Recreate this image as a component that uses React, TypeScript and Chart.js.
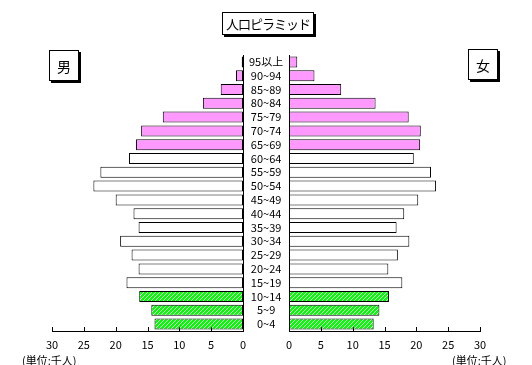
import React, { useEffect, useRef } from "react";
import { Chart, registerables } from "chart.js";

Chart.register(...registerables);

const ageGroups = [
  "95以上", "90~94", "85~89", "80~84", "75~79", "70~74", "65~69",
  "60~64", "55~59", "50~54", "45~49", "40~44", "35~39", "30~34",
  "25~29", "20~24", "15~19", "10~14", "5~9", "0~4",
];
const maleValues = [0.2, 1.1, 3.5, 6.3, 12.6, 16.0, 16.8, 17.9, 22.4, 23.5, 20.0, 17.2, 16.4, 19.3, 17.5, 16.4, 18.3, 16.3, 14.4, 13.9];
const femaleValues = [1.3, 4.0, 8.2, 13.6, 18.8, 20.7, 20.6, 19.6, 22.3, 23.1, 20.3, 18.1, 16.9, 18.9, 17.1, 15.6, 17.8, 15.7, 14.2, 13.3];
const ageBands = [
  "old", "old", "old", "old", "old", "old", "old",
  "work", "work", "work", "work", "work", "work", "work", "work", "work", "work",
  "young", "young", "young",
];
const axisMax = 30;
const axisStep = 5;
const titleText = "人口ピラミッド";
const maleLabel = "男";
const femaleLabel = "女";
const unitLabel = "(単位:千人)";

const FONT = '"Noto Sans CJK JP", "Noto Sans", sans-serif';

function makeHatch(): CanvasPattern | string {
  const c = document.createElement("canvas");
  c.width = 4;
  c.height = 4;
  const g = c.getContext("2d");
  if (!g) return "#00ff00";
  g.fillStyle = "#00ff00";
  g.fillRect(0, 0, 4, 4);
  g.fillStyle = "#ffffff";
  for (let i = 0; i < 4; i++) g.fillRect(i, 3 - i, 1, 1);
  const p = g.createPattern(c, "repeat");
  return p || "#00ff00";
}

const upTicks = {
  id: "upTicks",
  afterDraw(chart: any) {
    const xs = chart.scales.x;
    const ctx = chart.ctx;
    ctx.save();
    ctx.strokeStyle = "#000";
    ctx.lineWidth = 1;
    xs.ticks.forEach((_t: any, i: number) => {
      const px = Math.round(xs.getPixelForTick(i)) + 0.5;
      ctx.beginPath();
      ctx.moveTo(px, Math.round(xs.top));
      ctx.lineTo(px, Math.round(xs.top) - 4);
      ctx.stroke();
    });
    ctx.restore();
  },
};

function buildConfig(side: "left" | "right", values: number[]): any {
  const hatch = makeHatch();
  const colors = ageBands.map((b) => (b === "old" ? "#ff99ff" : b === "work" ? "#ffffff" : hatch));
  const isLeft = side === "left";
  return {
    type: "bar",
    data: {
      labels: ageGroups,
      datasets: [
        {
          data: values,
          backgroundColor: colors,
          borderColor: "#000",
          borderWidth: 1,
          borderSkipped: false,
          barPercentage: 0.8,
          categoryPercentage: 1,
        },
      ],
    },
    options: {
      indexAxis: "y",
      animation: false,
      responsive: false,
      events: [],
      layout: {
        padding: isLeft
          ? { left: 52, top: 55, right: 0, bottom: 0 }
          : { left: 0, top: 55, right: 52, bottom: 0 },
      },
      plugins: { legend: { display: false }, tooltip: { enabled: false }, title: { display: false } },
      scales: {
        x: {
          type: "linear",
          min: 0,
          max: axisMax,
          reverse: isLeft,
          position: "bottom",
          grid: { display: false, drawTicks: false },
          border: { display: true, color: "#000", width: 1 },
          ticks: {
            stepSize: axisStep,
            padding: 7,
            color: "#000",
            font: { family: FONT, size: 11 },
            maxRotation: 0,
          },
          afterFit(scale: any) {
            scale.height = 34;
          },
        },
        y: {
          type: "category",
          position: isLeft ? "right" : "left",
          grid: { display: false, drawTicks: false },
          border: { display: true, color: "#000", width: 1 },
          ticks: {
            display: isLeft,
            crossAlign: "center",
            padding: 6,
            color: "#000",
            font: { family: FONT, size: 11 },
            autoSkip: false,
          },
          afterFit(scale: any) {
            scale.width = 46;
          },
        },
      },
    },
    plugins: [upTicks],
  };
}

function HalfChart({ side, values, left }: { side: "left" | "right"; values: number[]; left: number }) {
  const ref = useRef<HTMLCanvasElement | null>(null);
  useEffect(() => {
    if (!ref.current) return;
    const chart = new Chart(ref.current, buildConfig(side, values));
    return () => chart.destroy();
  }, [side, values]);
  return (
    <canvas
      ref={ref}
      width={289}
      height={365}
      style={{ position: "absolute", left, top: 0, width: 289, height: 365, display: "block" }}
    />
  );
}

const boxStyle: React.CSSProperties = {
  position: "absolute",
  boxSizing: "border-box",
  border: "1px solid #000",
  boxShadow: "2px 2px 0 #000",
  background: "#fff",
  display: "flex",
  alignItems: "center",
  justifyContent: "center",
  fontFamily: FONT,
  color: "#000",
};

export default function App() {
  return (
    <div
      style={{
        position: "absolute",
        left: 0,
        top: 0,
        width: 532,
        height: 365,
        background: "#fff",
        overflow: "hidden",
        fontFamily: FONT,
      }}
    >
      <HalfChart side="left" values={maleValues} left={0} />
      <HalfChart side="right" values={femaleValues} left={243} />
      <div style={{ ...boxStyle, left: 222, top: 12, width: 92, height: 23, fontSize: 13, letterSpacing: -1 }}>
        {titleText}
      </div>
      <div style={{ ...boxStyle, left: 49, top: 50, width: 30, height: 31, fontSize: 14 }}>{maleLabel}</div>
      <div style={{ ...boxStyle, left: 468, top: 49, width: 30, height: 31, fontSize: 14 }}>{femaleLabel}</div>
      <div style={{ position: "absolute", left: 22, top: 353, fontSize: 11, lineHeight: "14px", whiteSpace: "nowrap" }}>
        {unitLabel}
      </div>
      <div style={{ position: "absolute", left: 452, top: 353, fontSize: 11, lineHeight: "14px", whiteSpace: "nowrap" }}>
        {unitLabel}
      </div>
    </div>
  );
}
